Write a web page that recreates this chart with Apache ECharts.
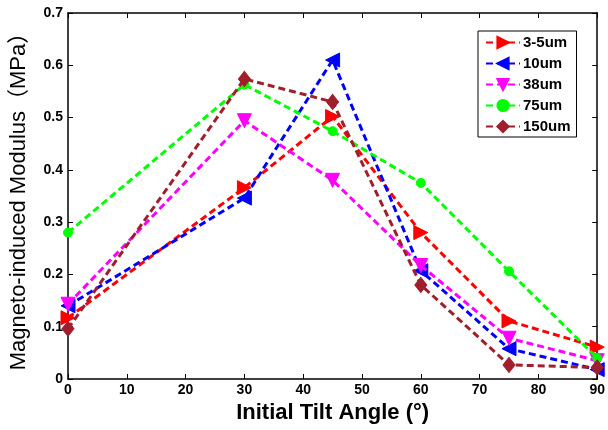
<!DOCTYPE html>
<html>
<head>
<meta charset="utf-8">
<script src="https://cdn.jsdelivr.net/npm/echarts@6/dist/echarts.min.js"></script>
<style>
html,body{margin:0;padding:0;background:#fff;}
#c{width:608px;height:430px;}
</style>
</head>
<body>
<div id="c"></div>
<script>
const angles = [0, 30, 45, 60, 75, 90];
const seriesNames = ['3-5um', '10um', '38um', '75um', '150um'];
const s35 = [0.117, 0.366, 0.502, 0.280, 0.111, 0.061];
const s10 = [0.140, 0.346, 0.610, 0.207, 0.058, 0.018];
const s38 = [0.143, 0.494, 0.380, 0.217, 0.078, 0.035];
const s75 = [0.280, 0.563, 0.474, 0.375, 0.206, 0.040];
const s150 = [0.096, 0.574, 0.530, 0.180, 0.027, 0.022];
const xTitle = 'Initial Tilt Angle (°)';
const yTitle = 'Magneto-induced Modulus（MPa）';

const FONT = '"Liberation Sans", Arial, "Noto Sans CJK SC", sans-serif';
const colors = ['#ff0000', '#0000ff', '#ff00ff', '#00ff00', '#a01f2c'];
const symbols = ['triangle', 'triangle', 'triangle', 'circle', 'diamond'];
const rotates = [-90, 90, 180, 0, 0];
const sizes = [14, 14, 14, 9, [12, 15]];
const allData = [s35, s10, s38, s75, s150];

const series = seriesNames.map((name, i) => ({
  name: name,
  type: 'line',
  data: angles.map((a, j) => [a, allData[i][j]]),
  symbol: symbols[i],
  symbolRotate: rotates[i],
  symbolSize: sizes[i],
  showAllSymbol: true,
  itemStyle: { color: colors[i], borderColor: colors[i], borderWidth: 1 },
  lineStyle: { color: colors[i], width: 3, type: [7, 4] },
  emphasis: { disabled: true },
  animation: false,
  z: 2 + i
}));

const axisCommon = {
  axisLine: { show: true, onZero: false, lineStyle: { color: '#000', width: 1.5 } },
  axisTick: { show: true, inside: true, length: 5, lineStyle: { color: '#000', width: 1 } },
  splitLine: { show: false }
};

const chart = echarts.init(document.getElementById('c'), null, { renderer: 'canvas' });
chart.setOption({
  animation: false,
  backgroundColor: '#fff',
  grid: { left: 67, right: 10, top: 13, bottom: 51, containLabel: false },
  legend: {
    data: seriesNames,
    orient: 'vertical',
    left: 478,
    top: 31,
    padding: [4, 6, 3, 7],
    itemGap: 6,
    itemWidth: 34,
    itemHeight: 14,
    backgroundColor: '#fff',
    borderColor: '#000',
    borderWidth: 1,
    textStyle: { fontFamily: FONT, fontWeight: 'bold', fontSize: 15, lineHeight: 14, color: '#000', padding: [0, 0, 0, -2] }
  },
  xAxis: [
    Object.assign({
      type: 'value', min: 0, max: 90, interval: 10, position: 'bottom',
      name: xTitle, nameLocation: 'middle', nameGap: 19,
      nameTextStyle: { fontFamily: FONT, fontWeight: 'bold', fontSize: 22, color: '#000' },
      axisLabel: { fontFamily: FONT, fontWeight: 'bold', fontSize: 14, color: '#000', margin: 4 }
    }, axisCommon),
    Object.assign({
      type: 'value', min: 0, max: 90, interval: 10, position: 'top',
      axisLabel: { show: false }
    }, axisCommon)
  ],
  yAxis: [
    Object.assign({
      type: 'value', min: 0, max: 0.7, interval: 0.1, position: 'left',
      name: yTitle, nameLocation: 'middle', nameGap: 38, nameRotate: 90,
      nameTextStyle: { fontFamily: FONT, fontSize: 22, color: '#000' },
      axisLabel: { fontFamily: FONT, fontWeight: 'bold', fontSize: 14, color: '#000', margin: 5,
        formatter: v => (v === 0 ? '0' : v.toFixed(1)) }
    }, axisCommon),
    Object.assign({
      type: 'value', min: 0, max: 0.7, interval: 0.1, position: 'right',
      axisLabel: { show: false }
    }, axisCommon)
  ],
  series: series
});
</script>
</body>
</html>
